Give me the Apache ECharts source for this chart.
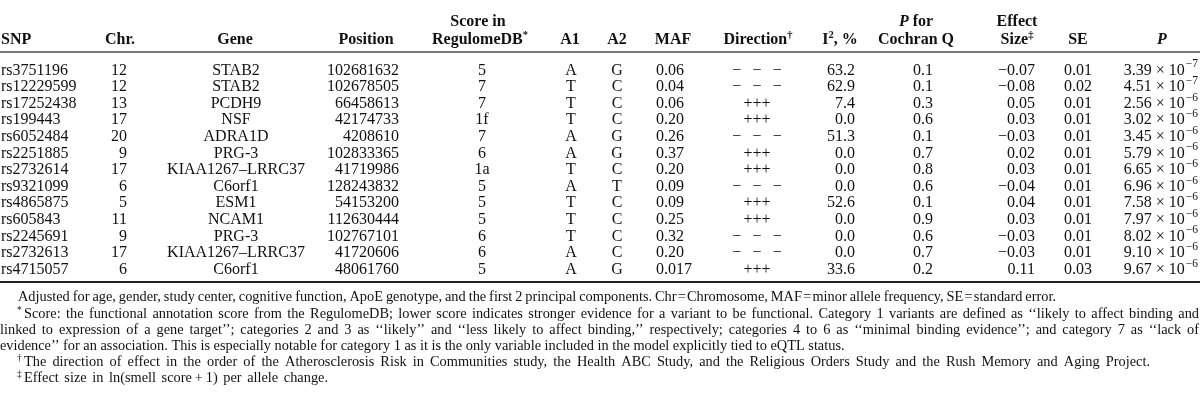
<!DOCTYPE html>
<html><head><meta charset="utf-8">
<script src="https://cdn.jsdelivr.net/npm/echarts@6/dist/echarts.min.js"></script>
<style>html,body{margin:0;padding:0;background:#fff}#c{width:1200px;height:408px}</style>
</head><body><div id="c"></div>
<script>
// ---------- data ----------
const snp = ['rs3751196','rs12229599','rs17252438','rs199443','rs6052484','rs2251885','rs2732614','rs9321099','rs4865875','rs605843','rs2245691','rs2732613','rs4715057'];
const chr = ['12','12','13','17','20','9','17','6','5','11','9','17','6'];
const gene = ['STAB2','STAB2','PCDH9','NSF','ADRA1D','PRG-3','KIAA1267\u2013LRRC37','C6orf1','ESM1','NCAM1','PRG-3','KIAA1267\u2013LRRC37','C6orf1'];
const position = ['102681632','102678505','66458613','42174733','4208610','102833365','41719986','128243832','54153200','112630444','102767101','41720606','48061760'];
const regulomeScore = ['5','7','7','1f','7','6','1a','5','5','5','6','6','5'];
const a1 = ['A','T','T','T','A','A','T','A','T','T','T','A','A'];
const a2 = ['G','C','C','C','G','G','C','T','C','C','C','C','G'];
const maf = ['0.06','0.04','0.06','0.20','0.26','0.37','0.20','0.09','0.09','0.25','0.32','0.20','0.017'];
const NEG = '\u2212\u2002\u2009\u2212\u2002\u2009\u2212';
const direction = [NEG, NEG, '+++', '+++', NEG, '+++', '+++', NEG, '+++', '+++', NEG, NEG, '+++'];
const i2 = ['63.2','62.9','7.4','0.0','51.3','0.0','0.0','0.0','52.6','0.0','0.0','0.0','33.6'];
const pCochran = ['0.1','0.1','0.3','0.6','0.1','0.7','0.8','0.6','0.1','0.9','0.6','0.7','0.2'];
const effectSize = ['\u22120.07','\u22120.08','0.05','0.03','\u22120.03','0.02','0.03','\u22120.04','0.04','0.03','\u22120.03','\u22120.03','0.11'];
const se = ['0.01','0.02','0.01','0.01','0.01','0.01','0.01','0.01','0.01','0.01','0.01','0.01','0.03'];
const pMantissa = ['3.39','4.51','2.56','3.02','3.45','5.79','6.65','6.96','7.58','7.97','8.02','9.10','9.67'];
const pExponent = ['\u22127','\u22127','\u22126','\u22126','\u22126','\u22126','\u22126','\u22126','\u22126','\u22126','\u22126','\u22126','\u22126'];

const footnotes = [
  'Adjusted for age, gender, study center, cognitive function, ApoE genotype, and the first 2 principal components. Chr\u200a=\u200aChromosome, MAF\u200a=\u200aminor allele frequency, SE\u200a=\u200astandard error.',
  'Score: the functional annotation score from the RegulomeDB; lower score indicates stronger evidence for a variant to be functional. Category 1 variants are defined as \u2018\u2018likely to affect binding and',
  'linked to expression of a gene target\u2019\u2019; categories 2 and 3 as \u2018\u2018likely\u2019\u2019 and \u2018\u2018less likely to affect binding,\u2019\u2019 respectively; categories 4 to 6 as \u2018\u2018minimal binding evidence\u2019\u2019; and category 7 as \u2018\u2018lack of',
  'evidence\u2019\u2019 for an association. This is especially notable for category 1 as it is the only variable included in the model explicitly tied to eQTL status.',
  'The direction of effect in the order of the Atherosclerosis Risk in Communities study, the Health ABC Study, and the Religious Orders Study and the Rush Memory and Aging Project.',
  'Effect size in ln(smell score\u2009+\u20091) per allele change.'
];

// ---------- layout ----------
const FAM = "'Liberation Serif','Times New Roman',serif";
const FS = 16;
const fontN = FS + 'px ' + FAM;
const fontB = 'bold ' + FS + 'px ' + FAM;
const fontBI = 'italic bold ' + FS + 'px ' + FAM;
const cvs = document.createElement('canvas').getContext('2d');
function measure(t, f) { cvs.font = f; return cvs.measureText(t).width; }
function txt(t, x, y, f, align, fill) {
  return { type: 'text', x: x, y: y, silent: true,
    style: { text: t, font: f, fill: fill || '#111', textAlign: align || 'left', align: align || 'left',
             textVerticalAlign: 'middle', verticalAlign: 'middle' } };
}
function seq(parts, x, y, align) {
  const ws = parts.map(p => measure(p.t, p.f));
  const tot = ws.reduce((a, b) => a + b, 0);
  let sx = align === 'center' ? x - tot / 2 : align === 'right' ? x - tot : x;
  const out = [];
  parts.forEach((p, k) => { out.push(txt(p.t, sx, y + (p.dy || 0), p.f, 'left')); sx += ws[k]; });
  return out;
}
function justify(line, x0, x1, y, f) {
  const words = line.split(' ');
  const ws = words.map(w => measure(w, f));
  const tot = ws.reduce((a, b) => a + b, 0);
  const gap = (x1 - x0 - tot) / (words.length - 1);
  const out = []; let sx = x0;
  words.forEach((w, k) => { out.push(txt(w, sx, y, f, 'left')); sx += ws[k] + gap; });
  return out;
}

const columns = [
  { values: snp, x: 1, align: 'left' },
  { values: chr, x: 127, align: 'right' },
  { values: gene, x: 236, align: 'center' },
  { values: position, x: 399, align: 'right' },
  { values: regulomeScore, x: 482, align: 'center' },
  { values: a1, x: 571, align: 'center' },
  { values: a2, x: 617, align: 'center' },
  { values: maf, x: 656, align: 'left' },
  { values: direction, x: 757, align: 'center' },
  { values: i2, x: 855, align: 'right' },
  { values: pCochran, x: 923, align: 'center' },
  { values: effectSize, x: 1035, align: 'right' },
  { values: se, x: 1078, align: 'center' }
];
const EXPF = '11.5px ' + FAM;
const pColX = 1198 - measure('\u22127', EXPF) - 1;

const series = columns.map(col => ({
  type: 'custom', coordinateSystem: 'cartesian2d', silent: true,
  data: col.values.map((v, i) => [i]),
  encode: { y: 0 },
  renderItem: function (params, api) {
    const p = api.coord([col.x, api.value(0)]);
    return txt(col.values[params.dataIndex], p[0], p[1], fontN, col.align);
  }
}));
series.push({
  type: 'custom', coordinateSystem: 'cartesian2d', silent: true,
  data: pMantissa.map((v, i) => [i]),
  encode: { y: 0 },
  renderItem: function (params, api) {
    const p = api.coord([pColX, api.value(0)]);
    const i = params.dataIndex;
    return { type: 'group', children: [
      txt(pMantissa[i] + ' \u00d7 10', p[0], p[1], fontN, 'right'),
      txt(pExponent[i], p[0] + 1, p[1] - 6, EXPF, 'left')
    ]};
  }
});

// header & footnotes (graphic)
const H1 = 22, H2 = 40;
const sup = 'bold 10.5px ' + FAM;
let g = [];
g.push(txt('SNP', 1, H2, fontB, 'left'));
g.push(txt('Chr.', 120, H2, fontB, 'center'));
g.push(txt('Gene', 235, H2, fontB, 'center'));
g.push(txt('Position', 366, H2, fontB, 'center'));
g.push(txt('Score in', 478, H1, fontB, 'center'));
g = g.concat(seq([{ t: 'RegulomeDB', f: fontB }, { t: '*', f: sup, dy: -5 }], 480, H2, 'center'));
g.push(txt('A1', 570, H2, fontB, 'center'));
g.push(txt('A2', 617, H2, fontB, 'center'));
g.push(txt('MAF', 673, H2, fontB, 'center'));
g = g.concat(seq([{ t: 'Direction', f: fontB }, { t: '\u2020', f: sup, dy: -5 }], 758, H2, 'center'));
g = g.concat(seq([{ t: 'I', f: fontB }, { t: '2', f: sup, dy: -5 }, { t: ', %', f: fontB }], 840, H2, 'center'));
g = g.concat(seq([{ t: 'P', f: fontBI }, { t: ' for', f: fontB }], 916, H1, 'center'));
g.push(txt('Cochran Q', 916, H2, fontB, 'center'));
g.push(txt('Effect', 1017, H1, fontB, 'center'));
g = g.concat(seq([{ t: 'Size', f: fontB }, { t: '\u2021', f: sup, dy: -5 }], 1017, H2, 'center'));
g.push(txt('SE', 1078, H2, fontB, 'center'));
g.push(txt('P', 1162, H2, fontBI, 'center'));
g.push({ type: 'line', silent: true, shape: { x1: 0, y1: 52, x2: 1200, y2: 52 }, style: { stroke: '#7a7a7a', lineWidth: 2 } });
g.push({ type: 'line', silent: true, shape: { x1: 0, y1: 282, x2: 1200, y2: 282 }, style: { stroke: '#222', lineWidth: 2 } });

// footnote font fitted to the natural (unjustified) 4th line
const fnSize = 14 * (845 / measure(footnotes[3], '14px ' + FAM));
const fnF = fnSize.toFixed(2) + 'px ' + FAM;
const fnSup = '9.5px ' + FAM;
const FY = [297, 314, 330, 346, 362, 378];
g = g.concat(justify(footnotes[0], 18, 1056, FY[0], fnF));
g.push(txt('*', 17, FY[1] - 4, fnSup, 'left'));
g = g.concat(justify(footnotes[1], 24, 1199, FY[1], fnF));
g = g.concat(justify(footnotes[2], 0, 1199, FY[2], fnF));
g.push(txt(footnotes[3], 0, FY[3], fnF, 'left'));
g.push(txt('\u2020', 17, FY[4] - 4, fnSup, 'left'));
g = g.concat(justify(footnotes[4], 24, 1150, FY[4], fnF));
g.push(txt('\u2021', 17, FY[5] - 4, fnSup, 'left'));
g = g.concat(justify(footnotes[5], 24, 328, FY[5], fnF));

const chart = echarts.init(document.getElementById('c'), null, { renderer: 'canvas' });
chart.setOption({
  animation: false,
  backgroundColor: '#fff',
  grid: { left: 0, right: 0, top: 62, height: 216 },
  xAxis: { type: 'value', min: 0, max: 1200, show: false },
  yAxis: { type: 'category', data: snp, inverse: true, show: false },
  series: series,
  graphic: g
});
</script></body></html>
